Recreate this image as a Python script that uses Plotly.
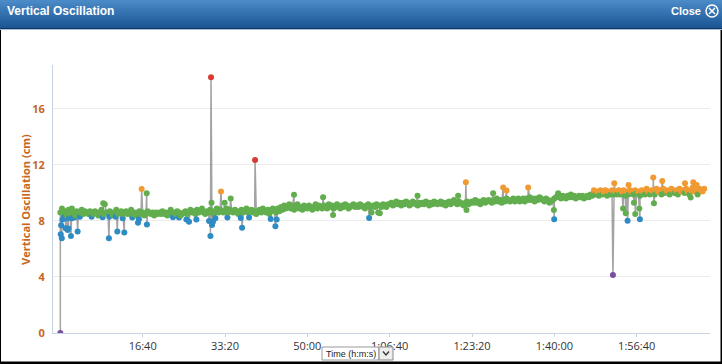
import plotly.graph_objects as go

# ---------------- data ----------------
SAMPLE_SECONDS = 20
# regular samples (one every 20 s), vertical oscillation in cm
BASE_VALUES = [
    8.6, 8.9, 8.5, 8.7, 8.4, 8.8, 8.5, 8.9, 8.6, 8.4, 8.7, 8.5, 8.6, 8.8, 8.5, 8.7, 8.6, 8.5, 8.7, 8.6,
    8.5, 8.7, 8.6, 8.4, 8.6, 8.8, 8.5, 9.2, 8.6, 8.5, 8.7, 8.6, 8.4, 8.6, 8.8, 8.5, 8.6, 8.7, 8.5, 8.6,
    8.7, 8.5, 8.6, 8.8, 8.5, 8.6, 8.4, 8.6, 8.7, 8.5, 8.6, 8.4, 8.5, 8.7, 8.6, 8.5, 8.6, 8.4, 8.6, 8.5,
    8.6, 8.5, 8.7, 8.5, 8.6, 8.4, 8.6, 8.8, 8.5, 8.6, 8.5, 8.7, 8.6, 8.4, 8.5, 8.6, 8.7, 8.5, 8.6, 8.8,
    8.6, 8.7, 8.5, 8.8, 8.6, 8.7, 8.9, 8.6, 8.5, 8.7, 8.6, 8.8, 8.7, 8.5, 8.7, 8.9, 8.6, 8.8, 8.7, 8.6,
    8.7, 8.9, 8.6, 8.8, 8.7, 8.6, 8.8, 8.7, 8.5, 8.7, 8.8, 8.6, 8.7, 8.9, 8.6, 8.7, 8.8, 8.6, 8.7, 8.5,
    8.7, 8.8, 8.6, 8.9, 8.7, 8.6, 8.8, 8.5, 8.7, 8.9, 8.8, 8.6, 8.9, 8.7, 9.0, 8.8, 9.1, 8.9, 9.0, 9.2,
    8.9, 9.1, 8.8, 9.0, 9.2, 8.9, 9.0, 8.8, 9.1, 9.0, 8.9, 9.1, 9.0, 8.8, 9.0, 9.2, 8.9, 9.1, 9.0, 8.9,
    9.1, 9.0, 8.9, 9.2, 9.0, 9.1, 8.9, 9.0, 9.2, 9.0, 8.9, 9.1, 9.0, 9.2, 9.1, 8.9, 9.0, 9.1, 9.2, 9.0,
    9.1, 9.0, 9.2, 9.1, 9.0, 8.9, 9.1, 9.2, 9.0, 8.6, 9.1, 9.0, 9.2, 8.6, 9.1, 9.0, 9.2, 9.1, 9.0, 9.2,
    9.2, 9.3, 9.1, 9.2, 9.4, 9.2, 9.3, 9.1, 9.3, 9.2, 9.4, 9.3, 9.1, 9.2, 9.4, 9.3, 9.2, 9.1, 9.3, 9.2,
    9.3, 9.2, 9.4, 9.3, 9.1, 9.3, 9.2, 9.4, 9.3, 9.2, 9.3, 9.4, 9.2, 9.3, 9.1, 9.3, 9.4, 9.2, 9.3, 9.5,
    9.3, 9.2, 9.4, 9.3, 9.2, 9.1, 9.3, 9.4, 9.2, 9.3, 9.4, 9.3, 9.5, 9.3, 9.4, 9.2, 9.4, 9.5, 9.3, 9.4,
    9.5, 9.4, 9.3, 9.5, 9.4, 9.6, 9.4, 9.5, 9.3, 9.5, 9.4, 9.6, 9.5, 9.4, 9.5, 9.6, 9.4, 9.5, 9.6, 9.4,
    9.5, 9.6, 9.4, 9.6, 9.5, 9.7, 9.5, 9.6, 9.4, 9.6, 9.5, 9.7, 9.6, 9.5, 9.4, 9.6, 9.5, 9.3, 9.4, 9.5,
    9.6, 9.7, 9.8, 9.7, 9.6, 9.8, 9.7, 9.6, 9.8, 9.7, 9.9, 9.7, 9.8, 9.6, 9.7, 9.8, 9.7, 9.8, 9.6, 9.7,
    9.8, 9.7, 9.9, 9.8, 10.2, 9.9, 10.1, 9.8, 10.2, 9.9, 10.1, 10.2, 9.8, 10.1, 9.9, 10.2, 9.9, 10.1, 9.9, 10.2,
    9.9, 10.1, 10.2, 9.8, 10.1, 9.9, 10.2, 10.1, 9.9, 10.2, 10.0, 10.1, 9.8, 10.2, 10.1, 9.9, 10.3, 10.1, 9.9, 10.2,
    10.1, 9.9, 10.3, 10.1, 10.2, 9.9, 10.3, 10.0, 10.2, 10.1, 9.9, 10.3, 10.2, 10.0, 10.2, 9.9, 10.3, 10.1, 10.2, 10.0,
    10.3, 10.1, 9.9, 10.2, 10.4, 10.1, 10.2, 9.9, 10.3, 10.2, 10.1, 10.3,
]

# irregular readings (seconds, cm)
EXTRA_TIMES = [
    0, 5, 10, 18, 26, 44, 64, 77, 89, 97, 109, 129, 137, 170, 210, 238, 380, 514, 521, 590,
    595, 672, 692, 757, 777, 874, 943, 955, 988, 1049, 1052, 1368, 1441, 1531, 1563, 1652, 1806, 1823, 1830, 1836,
    1842, 1854, 1883, 1951, 1996, 2029, 2069, 2191, 2207, 2292, 2365, 2555, 2612, 2628, 2838, 3191, 3312, 3750, 3880, 4338,
    4831, 4925, 4933, 5256, 5378, 5419, 5682, 5994, 5998, 6046, 6711, 6727, 6834, 6867, 6889, 6901, 6966, 6982, 7031, 7039,
    7201, 7209, 7310, 7586, 7655, 7687, 7728,
]
EXTRA_VALUES = [
    0.0, 7.05, 7.7, 6.76, 8.1, 8.24, 7.48, 8.2, 7.36, 7.47, 8.24, 6.93, 8.2, 8.25, 7.24, 8.3, 8.3, 8.26, 9.26, 6.76,
    8.3, 8.3, 7.24, 8.2, 7.17, 8.24, 7.88, 8.12, 10.29, 9.98, 7.74, 8.26, 8.24, 8.1, 7.95, 8.1, 8.0, 6.93, 18.26, 9.3,
    7.71, 7.95, 8.19, 10.1, 9.31, 8.24, 9.6, 8.21, 7.52, 8.25, 12.36, 8.14, 7.62, 8.1, 9.88, 9.69, 8.43, 8.21, 8.55, 9.81,
    9.81, 10.76, 8.79, 9.98, 10.4, 10.17, 10.4, 8.79, 8.12, 9.98, 4.14, 10.69, 8.9, 8.55, 8.02, 10.57, 9.31, 8.5, 8.9, 8.12,
    11.1, 9.26, 10.86, 10.69, 9.67, 10.76, 10.57,
]

# zone limits (cm) and colours: purple, blue, green, orange, red
ZONE_LIMITS = [6.7, 8.35, 10.05, 11.85]
ZONE_COLORS = ["#7a4fa0", "#2e8bc3", "#62ae4f", "#f09a33", "#d93b33"]

TICK_SECONDS = [1000, 2000, 3000, 4000, 5000, 6000, 7000]
TICK_LABELS = ["16:40", "33:20", "50:00", "1:06:40", "1:23:20", "1:40:00", "1:56:40"]
Y_TICKS = [0, 4, 8, 12, 16]

# ---------------- build ----------------
pairs = list(zip(EXTRA_TIMES, EXTRA_VALUES)) + [
    (i * SAMPLE_SECONDS, v) for i, v in enumerate(BASE_VALUES)
]
pairs.sort(key=lambda p: p[0])
xs = [p[0] for p in pairs]
ys = [p[1] for p in pairs]


def zone_color(v):
    for lim, c in zip(ZONE_LIMITS, ZONE_COLORS):
        if v < lim:
            return c
    return ZONE_COLORS[-1]


colors = [zone_color(v) for v in ys]

W, H = 722, 364
ML, MR, MT, MB = 53, 12, 65, 31
PW, PH = W - ML - MR, H - MT - MB


def px(x):
    return (x - ML) / PW


def py(y):
    return (H - MB - y) / PH


fig = go.Figure()
fig.add_trace(go.Scatter(
    x=xs, y=ys, mode="lines+markers",
    line=dict(color="rgba(140,140,140,0.8)", width=1.5),
    marker=dict(size=6, color=colors, line=dict(width=0)),
    hoverinfo="x+y", showlegend=False,
))

shapes = []
# title bar gradient
top = (74, 138, 198)
bot = (28, 86, 148)
n = 14
for k in range(n):
    f = k / (n - 1)
    c = tuple(round(top[j] + (bot[j] - top[j]) * f) for j in range(3))
    shapes.append(dict(type="rect", xref="paper", yref="paper",
                       x0=px(0), x1=px(W), y0=py(k * 2), y1=py(k * 2 + 2),
                       fillcolor="rgb(%d,%d,%d)" % c, line=dict(width=0), layer="above"))
shapes.append(dict(type="rect", xref="paper", yref="paper", x0=px(0), x1=px(W),
                   y0=py(28), y1=py(29), fillcolor="#0c3868", line=dict(width=0)))
shapes.append(dict(type="rect", xref="paper", yref="paper", x0=px(0), x1=px(W),
                   y0=py(29), y1=py(30), fillcolor="#a9bcd0", line=dict(width=0)))
# black frame outside the white panel
shapes.append(dict(type="rect", xref="paper", yref="paper", x0=px(0), x1=px(1),
                   y0=py(30), y1=py(H), fillcolor="black", line=dict(width=0)))
shapes.append(dict(type="rect", xref="paper", yref="paper", x0=px(720.5), x1=px(W),
                   y0=py(30), y1=py(H), fillcolor="black", line=dict(width=0)))
shapes.append(dict(type="rect", xref="paper", yref="paper", x0=px(0), x1=px(W),
                   y0=py(361.5), y1=py(H), fillcolor="black", line=dict(width=0)))
# close icon
shapes.append(dict(type="circle", xref="paper", yref="paper", x0=px(706), x1=px(718),
                   y0=py(5), y1=py(17), line=dict(color="white", width=1.5)))
shapes.append(dict(type="line", xref="paper", yref="paper", x0=px(709), x1=px(715),
                   y0=py(8), y1=py(14), line=dict(color="white", width=1.5)))
shapes.append(dict(type="line", xref="paper", yref="paper", x0=px(709), x1=px(715),
                   y0=py(14), y1=py(8), line=dict(color="white", width=1.5)))
# dropdown
shapes.append(dict(type="rect", xref="paper", yref="paper", x0=px(322), x1=px(379),
                   y0=py(347), y1=py(360), fillcolor="white", line=dict(color="#9a9a9a", width=1)))
shapes.append(dict(type="rect", xref="paper", yref="paper", x0=px(379), x1=px(393),
                   y0=py(347), y1=py(360), fillcolor="#eeeeee", line=dict(color="#8a8a8a", width=1)))
shapes.append(dict(type="path", xref="paper", yref="paper",
                   path="M %f %f L %f %f L %f %f" % (px(383), py(351.5), px(386), py(355), px(389), py(351.5)),
                   line=dict(color="#333", width=1.3)))

annotations = [
    dict(text="<b>Vertical Oscillation</b>", xref="paper", yref="paper", x=px(5), y=py(11),
         xanchor="left", yanchor="middle", showarrow=False,
         font=dict(family="Liberation Sans, Arial", size=12, color="white")),
    dict(text="<b>Close</b>", xref="paper", yref="paper", x=px(703), y=py(11),
         xanchor="right", yanchor="middle", showarrow=False,
         font=dict(family="Liberation Sans, Arial", size=11, color="white")),
    dict(text="<b>Vertical Oscillation (cm)</b>", xref="paper", yref="paper", x=px(25), y=py(200),
         xanchor="center", yanchor="middle", textangle=-90, showarrow=False,
         font=dict(family="Open Sans, Liberation Sans", size=11, color="#c8661e")),
    dict(text="Time (h:m:s)", xref="paper", yref="paper", x=px(350.5), y=py(353.5),
         xanchor="center", yanchor="middle", showarrow=False,
         font=dict(family="Liberation Sans Narrow, Liberation Sans, Arial", size=9, color="#222")),
]

fig.update_layout(
    width=W, height=H,
    margin=dict(l=ML, r=MR, t=MT, b=MB, pad=0),
    paper_bgcolor="white", plot_bgcolor="white",
    shapes=shapes, annotations=annotations,
    xaxis=dict(range=[-89, 7890], tickvals=TICK_SECONDS, ticktext=TICK_LABELS,
               showgrid=False, zeroline=False, showline=True, linecolor="#c5d3e2", linewidth=1,
               ticks="outside", ticklen=3, tickcolor="#c5d3e2",
               tickfont=dict(family="Open Sans, Liberation Sans", size=11, color="#333")),
    yaxis=dict(range=[0, 19.14], tickvals=Y_TICKS, showgrid=True, gridcolor="#ececec",
               zeroline=False, showline=True, linecolor="#c5d3e2", linewidth=1,
               ticks="", ticklabelstandoff=5,
               tickfont=dict(family="Open Sans, Liberation Sans", size=11, color="#c8661e", weight="bold")),
)

fig.write_html(
    "out.html",
    config={"displayModeBar": False},
    post_script="document.body.style.margin='0';document.body.style.overflow='hidden';",
)
